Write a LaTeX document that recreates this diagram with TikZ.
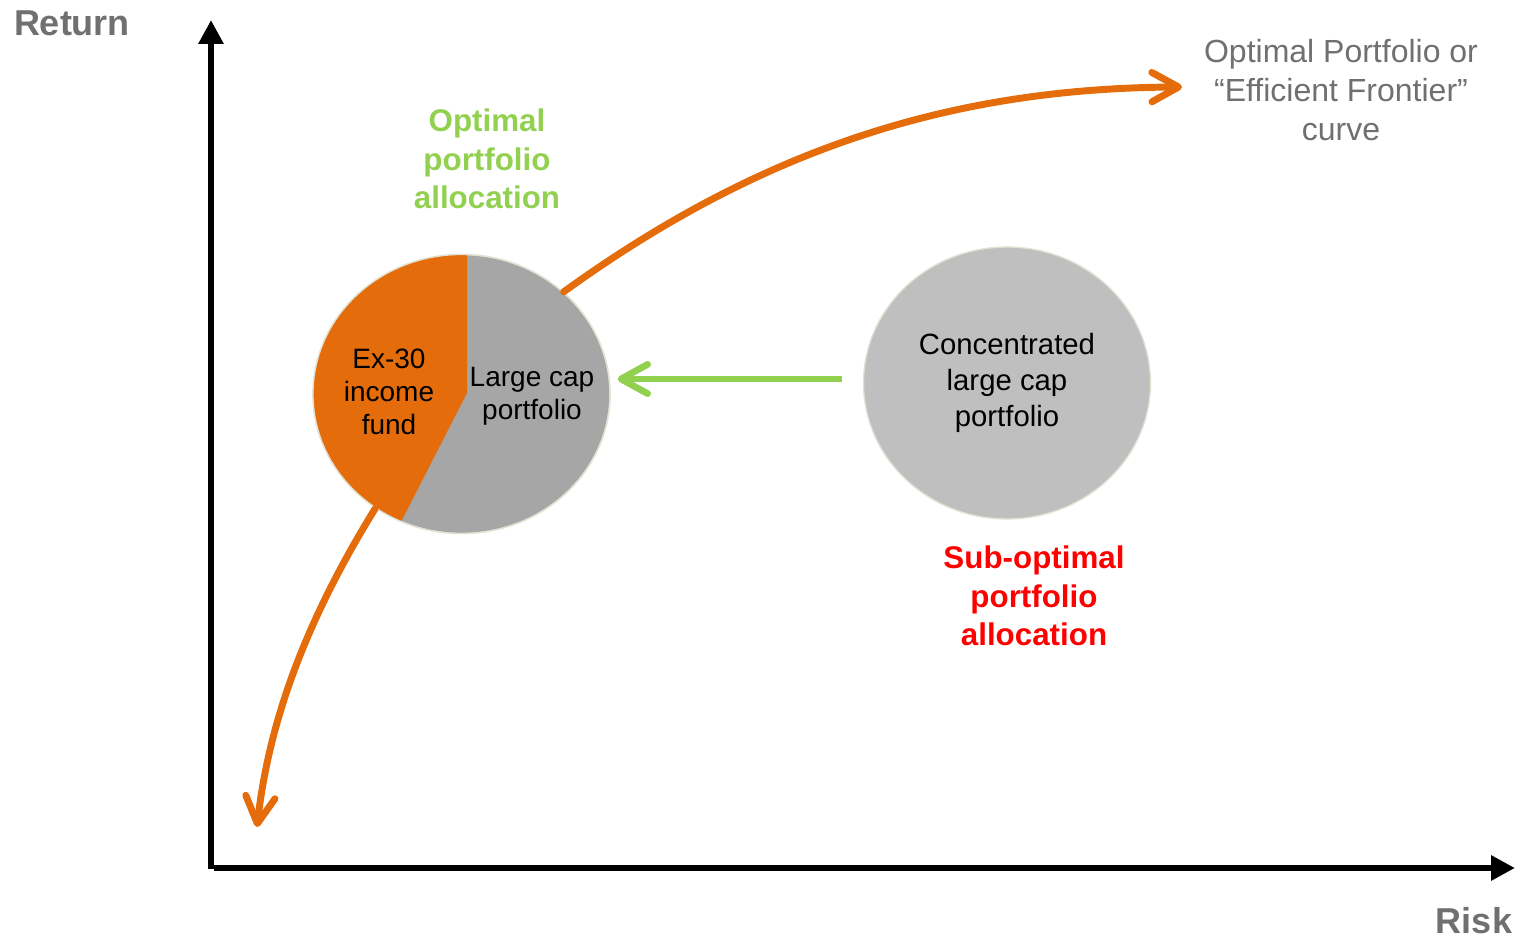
\documentclass[tikz,border=0pt]{standalone}
\usepackage{fontspec}
\setmainfont{Liberation Sans}
\usetikzlibrary{arrows.meta,shapes.geometric}
\definecolor{curveorange}{HTML}{E46C0A}
\definecolor{piegray}{HTML}{A6A6A6}
\definecolor{blobgray}{HTML}{BFBFBF}
\definecolor{rimcolor}{HTML}{E2E2D4}
\definecolor{goodgreen}{HTML}{92D050}
\definecolor{badred}{HTML}{FF0000}
\definecolor{labelgray}{HTML}{6F7072}
\begin{document}
\begin{tikzpicture}[x=0.75pt,y=-0.75pt,
  axis/.style={line width=4.6pt, -{Triangle[length=18pt,width=18pt]}},
  frontier/.style={draw=curveorange, line width=5.2pt, line cap=round,
    -{Straight Barb[length=20pt,width=22pt,round]}},
  shiftarrow/.style={draw=goodgreen, line width=5pt,
    -{Straight Barb[length=20pt,width=22pt,round]}},
  axislabel/.style={font=\fontsize{27pt}{32pt}\selectfont\bfseries, text=labelgray, inner sep=0pt},
  curvenote/.style={font=\fontsize{24pt}{29pt}\selectfont, text=labelgray, align=center, inner sep=0pt},
  goodnote/.style={font=\fontsize{23.5pt}{29pt}\selectfont\bfseries, text=goodgreen, align=center, inner sep=0pt},
  badnote/.style={font=\fontsize{23.5pt}{29pt}\selectfont\bfseries, text=badred, align=center, inner sep=0pt},
  slicetext/.style={font=\fontsize{21pt}{24.5pt}\selectfont, align=center, inner sep=0pt},
  blob/.style={ellipse, draw=rimcolor, line width=1pt, inner sep=0pt}
]
\useasboundingbox (0,0) rectangle (1522,941);

% axes
\coordinate (origin) at (211,868);
\coordinate (ytop) at (211,20);
\coordinate (xend) at (1515,868);
\draw[axis] ([yshift=-0.5pt]origin) -- (ytop);
\draw[axis] ([xshift=2pt]origin) -- (xend);
\node[axislabel] (ret) at (72,23) {Return};
\node[axislabel] (risk) at (1474,921) {Risk};

% optimal allocation pie
\node[blob, fill=piegray, minimum width=222.75pt, minimum height=209.25pt] (pie) at (461.5,394) {};
\begin{scope}
  \clip (461.5,394) ellipse [x radius=111.375pt, y radius=104.625pt];
  \fill[curveorange] (467,393) -- (467,230) -- (290,230) -- (290,560) -- (381.5,560) -- cycle;
\end{scope}
\node[blob, minimum width=222.75pt, minimum height=209.25pt] (pierim) at (461.5,394) {};
\node[slicetext] (ex30) at (389,392) {Ex-30\\income\\fund};
\node[slicetext] (lcap) at (532,396) {Large cap\\portfolio};

% concentrated holding
\node[blob, fill=blobgray, minimum width=215.25pt, minimum height=204pt,
      font=\fontsize{22pt}{27pt}\selectfont, align=center] (conc) at (1007,383)
      {Concentrated\\large cap\\portfolio};

% labels
\node[goodnote] (opt) at (487,159) {Optimal\\portfolio\\allocation};
\node[badnote] (sub) at (1034,596) {Sub-optimal\\portfolio\\allocation};
\node[curvenote] (eff) at (1341,90) {Optimal Portfolio or\\“Efficient Frontier”\\curve};

% efficient frontier curve
\coordinate (upper-end) at (1182,87);
\coordinate (lower-end) at (257,827);
\draw[frontier] (pie.45) .. controls (760,150) and (950,88) .. (upper-end);
\draw[frontier] (pie.233) .. controls (300,630) and (268,730) .. (lower-end);

% move to the optimal allocation
\coordinate (shift-start) at ([xshift=-15.75pt,yshift=3pt]conc.west);
\draw[shiftarrow] (shift-start) -- ([xshift=5.25pt]pie.east |- shift-start);
\end{tikzpicture}
\end{document}
